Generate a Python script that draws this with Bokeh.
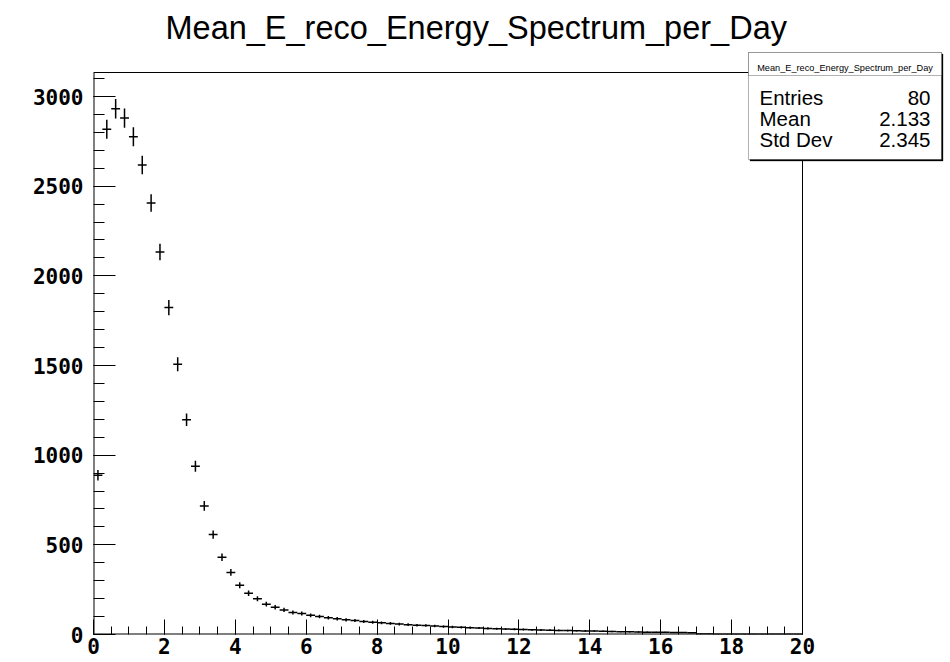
import numpy as np
from bokeh.plotting import figure
from bokeh.models import FixedTicker, BoxAnnotation, Label, ColumnDataSource, Range1d
from bokeh.embed import file_html
from bokeh.resources import INLINE

# ---- data ----
bin_lo = 0.0
bin_hi = 20.0
n_bins = 80
counts = [888, 2817, 2932, 2880, 2776, 2618, 2406, 2133, 1823, 1507,
          1198, 938, 717, 557, 431, 346, 275, 230, 199, 169,
          152, 137, 123, 117, 107, 100, 94, 88, 82, 78,
          73, 68, 65, 62, 58, 55, 52, 50, 47, 44,
          42, 40, 38, 36, 34, 32, 30, 29, 28, 26,
          25, 24, 23, 22, 21, 20, 19, 18, 17, 16,
          15, 14, 13, 12, 12, 11, 11, 10, 3, 3,
          2, 2, 2, 2, 2, 1, 1, 1, 1, 1]
x_ticks = [0, 2, 4, 6, 8, 10, 12, 14, 16, 18, 20]
y_ticks = [0, 500, 1000, 1500, 2000, 2500, 3000]
title_text = "Mean_E_reco_Energy_Spectrum_per_Day"
stats_names = ["Entries", "Mean", "Std Dev"]
stats_values = ["80", "2.133", "2.345"]
y_max = 3134

# ---- derived ----
width = (bin_hi - bin_lo) / n_bins
centers = bin_lo + width * (np.arange(n_bins) + 0.5)
vals = np.array(counts, dtype=float)
errs = np.sqrt(vals)
src = ColumnDataSource(dict(
    x=centers, y=vals, x0=centers - width / 2, x1=centers + width / 2,
    ylo=vals - errs, yhi=vals + errs))

W, H = 950, 662
# histogram frame in pixels
FL, FR, FT, FB = 93, 802, 72, 634
# drawing area extended to the right/top so the stats box fits inside
EXT_R, EXT_T = 945, 50
sx = (FR - FL) / (bin_hi - bin_lo)
sy = (FB - FT) / y_max
x_end = bin_lo + (EXT_R - FL) / sx
y_end = (FB - EXT_T) / sy

def px2x(px):
    return bin_lo + (px - FL) / sx
def px2y(py):
    return (FB - py) / sy

p = figure(width=W, height=H, output_backend="svg", toolbar_location=None,
           x_range=Range1d(bin_lo, x_end), y_range=Range1d(0, y_end),
           min_border_left=FL, min_border_right=W - EXT_R, min_border_top=EXT_T,
           min_border_bottom=H - FB,
           background_fill_color="white", border_fill_color="white")
p.grid.visible = False
p.outline_line_color = None

p.title.text = title_text
p.title.text_font = "Liberation Sans"
p.title.text_font_style = "normal"
p.title.text_font_size = "32.5px"
p.title.text_color = "black"
p.title.align = "left"
p.title.offset = 72
p.title.standoff = 10

# frame lines of the histogram
p.segment(x0=[bin_lo, bin_lo], x1=[bin_lo, bin_hi], y0=[0, 0], y1=[y_max, 0],
          line_color="black", line_width=2)
p.segment(x0=[bin_lo, bin_hi], x1=[bin_hi, bin_hi], y0=[y_max, 0], y1=[y_max, y_max],
          line_color="black", line_width=1)

p.segment(x0="x0", x1="x1", y0="y", y1="y", source=src, line_color="black", line_width=1.5)
p.segment(x0="x", x1="x", y0="ylo", y1="yhi", source=src, line_color="black", line_width=1.5)

xa = p.xaxis[0]
xa.ticker = FixedTicker(ticks=x_ticks, minor_ticks=list(np.arange(0, 20.01, 0.5)))
xa.major_tick_in = 15
xa.major_tick_out = 0
xa.minor_tick_in = 8
xa.minor_tick_out = 0
xa.major_tick_line_color = "black"
xa.minor_tick_line_color = "black"
xa.major_label_text_font = "DejaVu Sans Mono"
xa.major_label_text_font_style = "bold"
xa.major_label_text_font_size = "21px"
xa.major_label_text_color = "black"
xa.major_label_standoff = 3
xa.axis_line_color = None

ya = p.yaxis[0]
ya.ticker = FixedTicker(ticks=y_ticks, minor_ticks=list(range(0, 3101, 100)))
ya.major_tick_in = 22
ya.major_tick_out = 0
ya.minor_tick_in = 11
ya.minor_tick_out = 0
ya.major_tick_line_color = "black"
ya.minor_tick_line_color = "black"
ya.major_label_text_font = "DejaVu Sans Mono"
ya.major_label_text_font_style = "bold"
ya.major_label_text_font_size = "21px"
ya.major_label_text_color = "black"
ya.major_label_standoff = 10
ya.axis_line_color = None

# stats box
box_l, box_r, box_t, box_b, box_h = 748, 941, 52, 159, 75
p.add_layout(BoxAnnotation(left=px2x(box_l + 1.5), right=px2x(box_r + 1.5), top=px2y(box_t + 1.5),
                           bottom=px2y(box_b + 1.5), fill_color="black", fill_alpha=1,
                           line_color="black", line_width=1, level="overlay"))
p.add_layout(BoxAnnotation(left=px2x(box_l), right=px2x(box_r), top=px2y(box_t), bottom=px2y(box_b),
                           fill_color="white", fill_alpha=1, line_color="black", line_width=1,
                           level="overlay"))
p.add_layout(BoxAnnotation(left=px2x(box_l), right=px2x(box_r), top=px2y(box_t), bottom=px2y(box_h),
                           fill_color="white", fill_alpha=1, line_color="black", line_width=1,
                           level="overlay"))
p.add_layout(Label(x=px2x((box_l + box_r) / 2), y=px2y(67), text=title_text,
                   text_font="Liberation Sans", text_font_size="9.2px", text_align="center",
                   text_baseline="alphabetic", text_color="black", level="overlay"))
baselines = [97, 118, 139]
for name, v, b in zip(stats_names, stats_values, baselines):
    p.add_layout(Label(x=px2x(759), y=px2y(b), text=name, text_font="Liberation Sans",
                       text_font_size="20.5px", text_align="left", text_baseline="alphabetic",
                       text_color="black", level="overlay"))
    p.add_layout(Label(x=px2x(930), y=px2y(b), text=v, text_font="Liberation Sans",
                       text_font_size="20.5px", text_align="right", text_baseline="alphabetic",
                       text_color="black", level="overlay"))

open("out.html", "w").write(file_html(p, INLINE))
